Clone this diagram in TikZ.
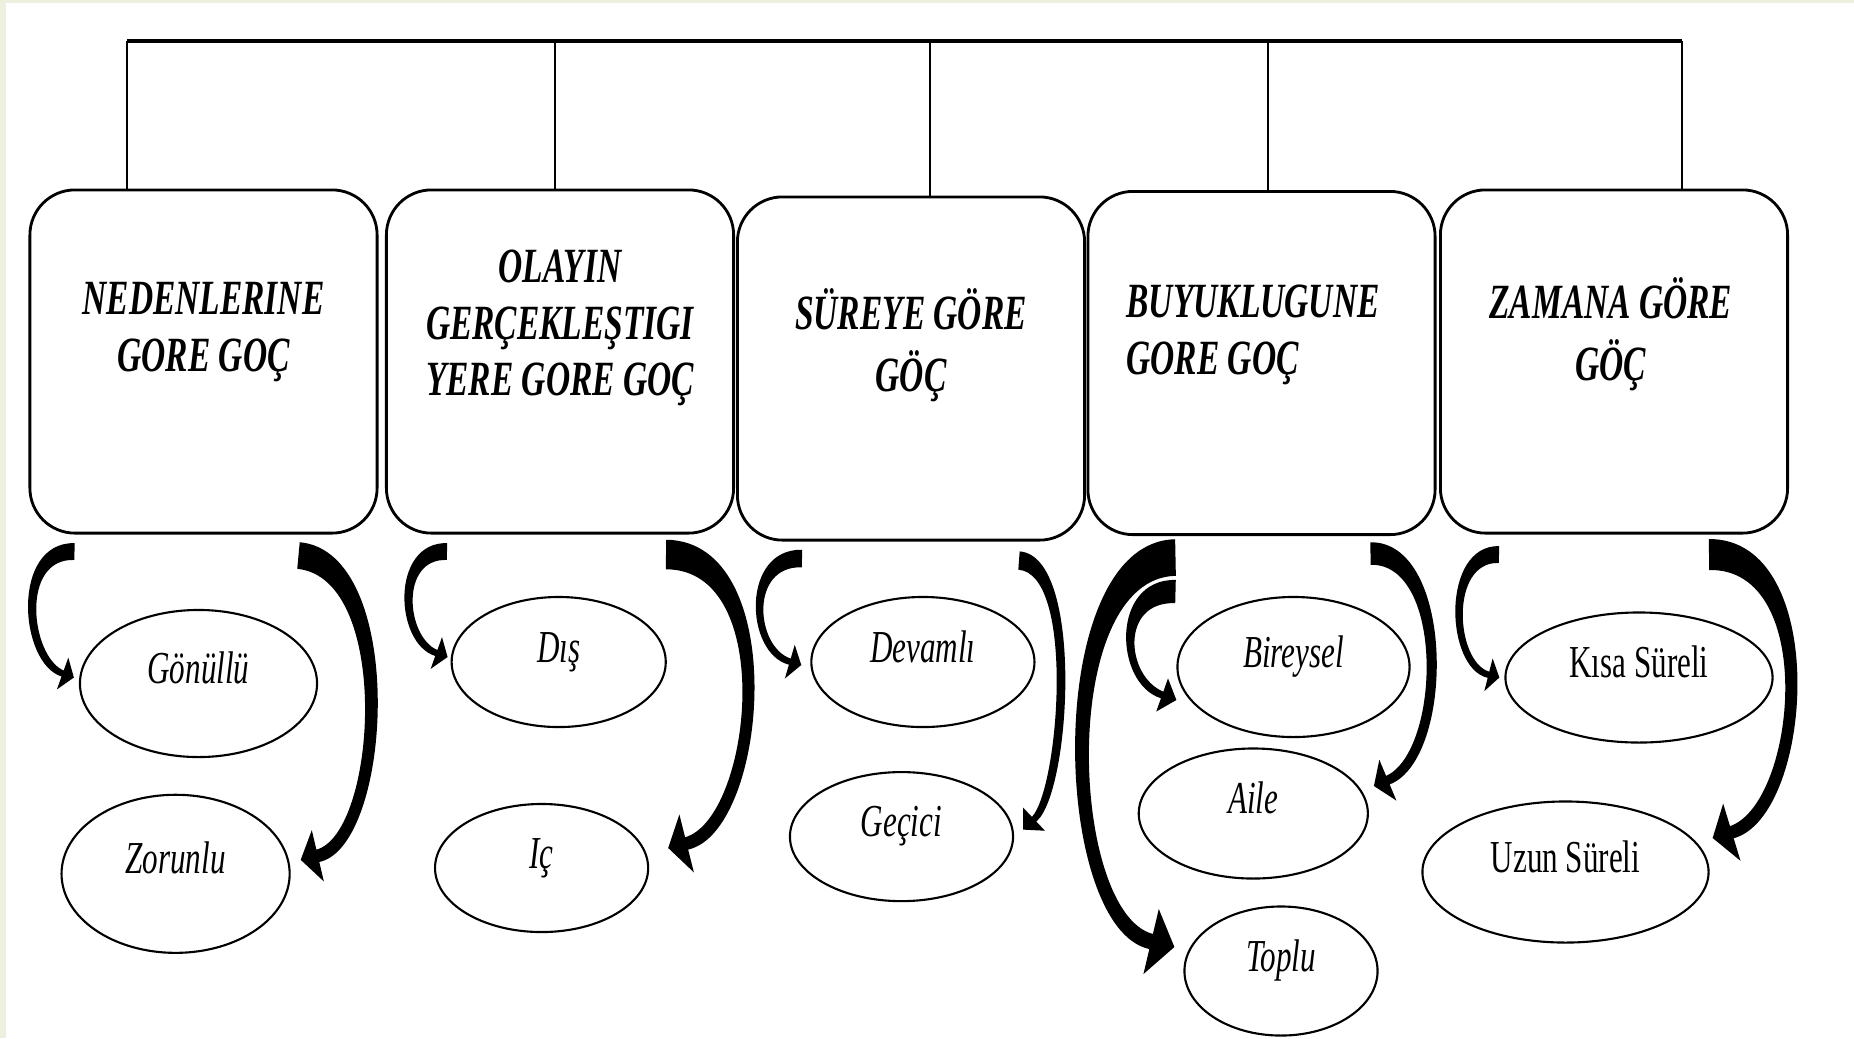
\documentclass[tikz,border=0pt]{standalone}
\usepackage{fontspec}
\setmainfont{Liberation Serif}
\newfontfamily\narrowserif{Liberation Serif}[FakeStretch=0.68]
\usetikzlibrary{calc,shapes.geometric}
\definecolor{slide}{RGB}{237,240,222}

% filled bent arrow: start, control, control, tip,
% half width at start, in the middle, at the neck, half width of head, head length
\newcommand{\bentarrow}[9]{%
  \coordinate (ba-s) at (#1);
  \coordinate (ba-a) at (#2);
  \coordinate (ba-b) at (#3);
  \coordinate (ba-t) at (#4);
  \coordinate (ba-n) at ($(ba-t)!#9!(ba-b)$);
  \fill ($(ba-s)!#5!90:(ba-a)$)
     .. controls ($(ba-a)!#5!-90:(ba-s) + (ba-a)!#6!90:(ba-b) - (ba-a)$)
             and ($(ba-b)!#7!90:(ba-n) + (ba-b)!#6!-90:(ba-a) - (ba-b)$) .. ($(ba-n)!#7!-90:(ba-b)$)
     -- ($(ba-n)!#8!-90:(ba-b)$) -- (ba-t) -- ($(ba-n)!#8!90:(ba-b)$) -- ($(ba-n)!#7!90:(ba-b)$)
     .. controls ($(ba-b)!#7!-90:(ba-n) + (ba-b)!#6!90:(ba-a) - (ba-b)$)
             and ($(ba-a)!#5!90:(ba-s) + (ba-a)!#6!-90:(ba-b) - (ba-a)$) .. ($(ba-s)!#5!-90:(ba-a)$) -- cycle;
}

\begin{document}
\begin{tikzpicture}[
    x=0.01cm, y=-0.01cm,
    groupbox/.style={draw, line width=0.8pt, rounded corners=4.5mm, minimum width=3.47cm, minimum height=3.43cm},
    heading/.style={align=center, inner sep=0pt, font=\narrowserif\bfseries\itshape\fontsize{14}{16}\selectfont},
    leaf/.style={ellipse, draw, line width=0.6pt, inner sep=0pt, text height=9pt, text depth=9pt,
                 font=\narrowserif\itshape\fontsize{13}{15}\selectfont},
    upright/.style={font=\narrowserif\fontsize{13}{15}\selectfont},
    bus/.style={line width=1pt},
    drop/.style={line width=0.5pt},
]
    % slide background
    \fill[white] (0,0) rectangle (1854,1038);
    \fill[slide] (0,0) rectangle (6,1038);
    \fill[slide] (0,0) rectangle (1854,3);
    \useasboundingbox (0,0) rectangle (1854,1038);

    % main groups
    \node[groupbox] (neden) at (203.5,361.5) {};
    \node[groupbox] (olay)  at (560,361.5) {};
    \node[groupbox] (sure)  at (911,368.5) {};
    \node[groupbox] (buyuk) at (1261.5,363) {};
    \node[groupbox] (zaman) at (1614,361.5) {};

    \node[heading] (neden-t) at ([yshift=8.4pt]neden.center) {NEDENLERINE\\GORE GOÇ};
    \node[heading] (olay-t)  at ([yshift=9.5pt]olay.center) {OLAYIN\\GERÇEKLEŞTIGI\\YERE GORE GOÇ};
    \node[heading] (sure-t)  at ([yshift=6.7pt]sure.center) {SÜREYE GÖRE\\[1.5pt]GÖÇ};
    \node[heading, align=left] (buyuk-t) at ([shift={(-2.4pt,8pt)}]buyuk.center) {BUYUKLUGUNE\\GORE GOÇ};
    \node[heading] (zaman-t) at ([shift={(-0.9pt,7.8pt)}]zaman.center) {ZAMANA GÖRE\\[1.5pt]GÖÇ};

    % bus
    \coordinate (bus1) at (127,41);
    \coordinate (bus2) at (555,41);
    \coordinate (bus3) at (930,41);
    \coordinate (bus4) at (1268,41);
    \coordinate (bus5) at (1682,41);
    \draw[bus] (bus1) -- (bus5);
    \foreach \i/\grp in {1/neden,2/olay,3/sure,4/buyuk,5/zaman}
        \draw[drop] (bus\i) -- (bus\i |- \grp.north);

    % sub types
    \node[leaf, minimum width=2.37cm, minimum height=1.47cm] (gonullu)  at (198.5,683.5) {Gönüllü};
    \node[leaf, minimum width=2.28cm, minimum height=1.58cm] (zorunlu)  at (175.6,873.8) {Zorunlu};
    \node[leaf, minimum width=2.14cm, minimum height=1.30cm] (dis)      at (558.7,662) {Dış};
    \node[leaf, minimum width=2.13cm, minimum height=1.28cm] (ic)       at (541.6,868) {Iç};
    \node[leaf, minimum width=2.23cm, minimum height=1.30cm] (devamli)  at (922.9,662) {Devamlı};
    \node[leaf, minimum width=2.23cm, minimum height=1.29cm] (gecici)   at (901.5,836.6) {Geçici};
    \node[leaf, minimum width=2.32cm, minimum height=1.40cm] (bireysel) at (1293.5,667) {Bireysel};
    \node[leaf, minimum width=2.29cm, minimum height=1.30cm] (aile)     at (1253.3,813.5) {Aile};
    \node[leaf, minimum width=1.93cm, minimum height=1.29cm] (toplu)    at (1281,971) {Toplu};
    \node[leaf, upright, minimum width=2.67cm, minimum height=1.30cm] (kisa) at (1639,677.5) {Kısa Süreli};
    \node[leaf, upright, minimum width=2.86cm, minimum height=1.41cm] (uzun) at (1565.5,872) {Uzun Süreli};

    % arrows
    \bentarrow{$(neden.south west)+(46,17)$}{15,550}{25,660}{$(gonullu.west)+(-5,-6)$}{2.4pt}{1.4pt}{0.9pt}{4.8pt}{3.4pt}
    \bentarrow{$(neden.south west)+(270,21)$}{400,565}{385,840}{$(zorunlu.east)+(10,-14)$}{3.8pt}{1.9pt}{1.8pt}{7.5pt}{5pt}
    \bentarrow{$(olay.south west)+(62,17)$}{395,550}{400,640}{$(dis.west)+(-3,-5)$}{2.4pt}{1.4pt}{0.9pt}{4.8pt}{3.4pt}
    \bentarrow{$(olay.south west)+(281,20)$}{785,555}{760,825}{$(ic.east)+(19,-20)$}{4.2pt}{2pt}{1.8pt}{8.5pt}{5.4pt}
    \bentarrow{$(sure.south west)+(66,17)$}{745,557}{750,650}{$(devamli.west)+(-9,3)$}{2.5pt}{1.3pt}{0.9pt}{5pt}{3.4pt}
    \bentarrow{$(sure.south west)+(283,19)$}{1080,565}{1065,790}{$(gecici.east)+(9,-7)$}{2.6pt}{1.1pt}{0.9pt}{4.5pt}{4.3pt}
    \bentarrow{$(buyuk.south west)+(89,21.5)$}{1050,560}{1060,920}{$(toplu.west)+(-9,-24)$}{5.2pt}{2.2pt}{2.2pt}{9.5pt}{6.8pt}
    \bentarrow{$(buyuk.south west)+(89,55.5)$}{1115,590}{1120,680}{$(bireysel.west)+(0,33)$}{3.3pt}{1.4pt}{1pt}{5pt}{4.3pt}
    \bentarrow{$(buyuk.south west)+(284,17.5)$}{1450,552}{1448,755}{$(aile.east)+(5,-27.5)$}{3.2pt}{1.6pt}{1.3pt}{6.3pt}{4.3pt}
    \bentarrow{$(zaman.south west)+(60,20)$}{1445,553}{1450,665}{$(kisa.west)+(-5,0)$}{2.4pt}{1.3pt}{0.9pt}{4.8pt}{3.2pt}
    \bentarrow{$(zaman.south west)+(270,20)$}{1825,553}{1805,810}{$(uzun.east)+(3,-34)$}{4.4pt}{2pt}{1.8pt}{8.5pt}{5.7pt}
\end{tikzpicture}
\end{document}
